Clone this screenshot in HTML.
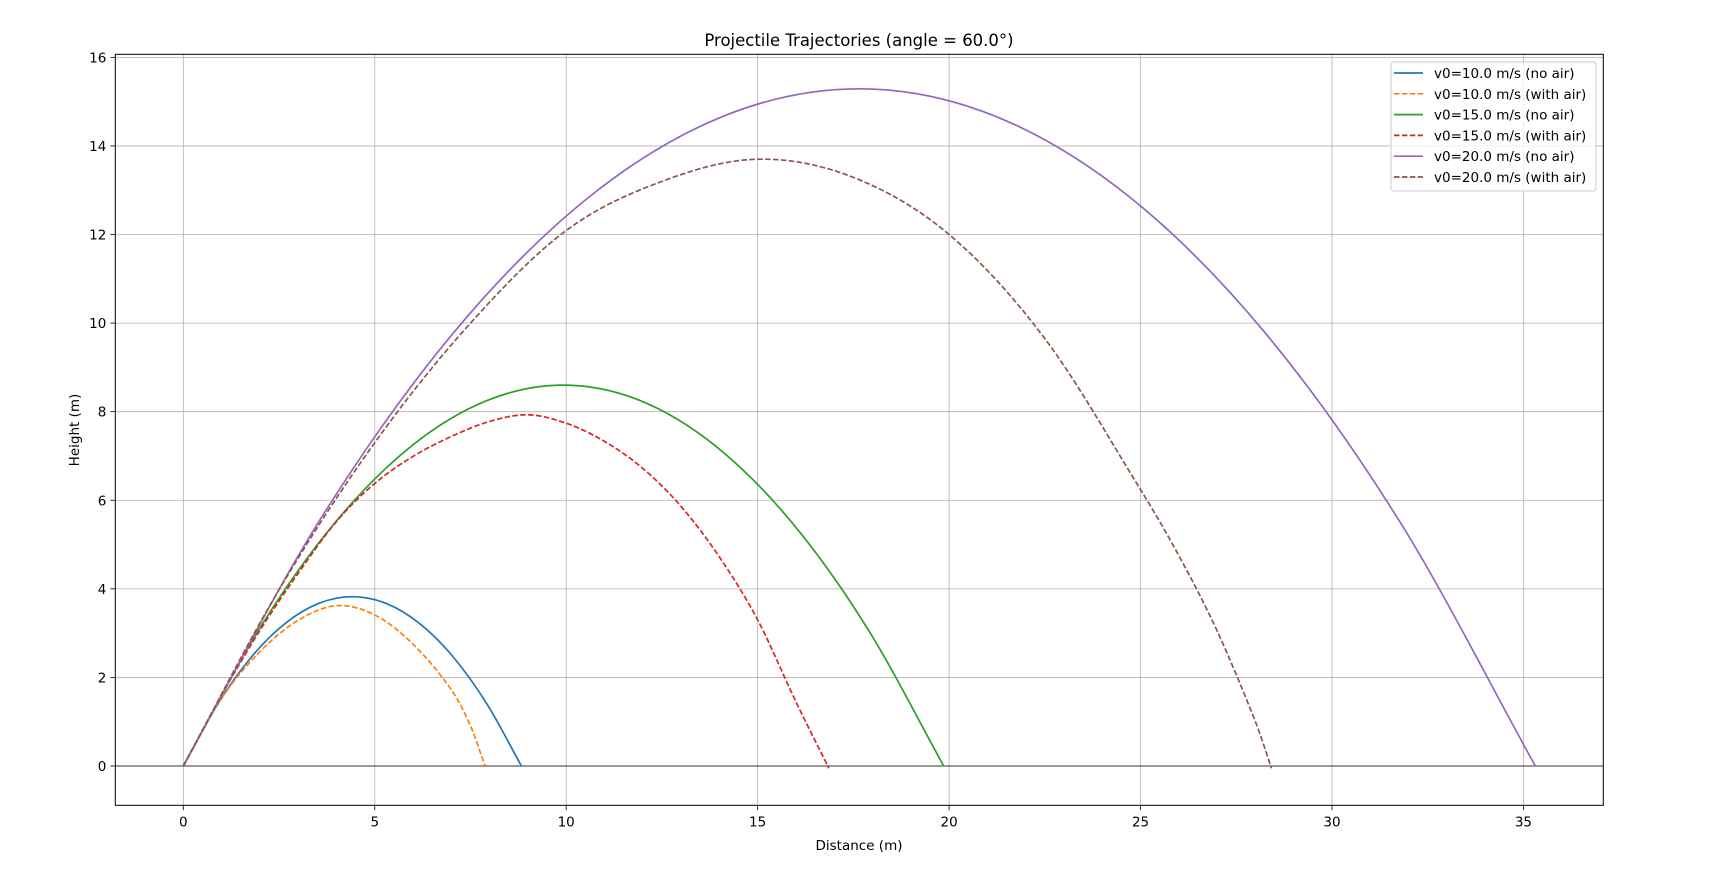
<!DOCTYPE html>
<html><head><meta charset="utf-8"><style>
body{margin:0;background:#fff;}
svg{display:block;font-family:"DejaVu Sans","Liberation Sans",sans-serif;}
</style></head><body>
<svg id="chart" width="1728" height="870" viewBox="0 0 1728 870">
<rect width="1728" height="870" fill="#fff"/>
<g id="grid"></g>
<g id="marks"></g>
<rect x="115.3" y="54.3" width="1488" height="751" fill="none" stroke="#000" stroke-width="1"/>
<g id="ticks"></g>
<text x="859" y="46" text-anchor="middle" font-size="16.5">Projectile Trajectories (angle = 60.0°)</text>
<text x="859" y="850" text-anchor="middle" font-size="13.5">Distance (m)</text>
<text x="79" y="430" text-anchor="middle" font-size="13.5" transform="rotate(-90 79 430)">Height (m)</text>
<g id="legend"></g>
</svg>
<script>
const xTicks=[0,5,10,15,20,25,30,35];
const yTicks=[0,2,4,6,8,10,12,14,16];
const seriesNames=["v0=10.0 m/s (no air)","v0=10.0 m/s (with air)","v0=15.0 m/s (no air)","v0=15.0 m/s (with air)","v0=20.0 m/s (no air)","v0=20.0 m/s (with air)"];
const v10NoAirX=[0,0.883,1.766,2.649,3.532,4.415,5.298,6.181,7.064,7.947,8.83];
const v10NoAirY=[0,1.376,2.447,3.211,3.670,3.823,3.670,3.211,2.447,1.376,0];
const v10AirX=[0,1,2,3,4,5,6,7,7.5,7.88];
const v10AirY=[0,1.53,2.58,3.29,3.62,3.41,2.75,1.72,0.91,0];
const v15NoAirX=[0,1.986,3.972,5.958,7.944,9.93,11.916,13.902,15.888,17.874,19.86];
const v15NoAirY=[0,3.096,5.504,7.224,8.256,8.60,8.256,7.224,5.504,3.096,0];
const v15AirX=[0,1,2,3,4,5,6,7,8,9,10,11,12,13,14,15,16,16.86];
const v15AirY=[0,1.6,3.06,4.35,5.52,6.38,6.99,7.44,7.78,7.93,7.74,7.33,6.72,5.86,4.72,3.3,1.45,-0.05];
const v20NoAirX=[0,3.531,7.062,10.593,14.124,17.655,21.186,24.717,28.248,31.779,35.31];
const v20NoAirY=[0,5.504,9.786,12.844,14.678,15.29,14.678,12.844,9.786,5.504,0];
const v20AirX=[0,2.5,5,7.5,10,12.5,15,17.5,20,22.5,25,26,27,28,28.42];
const v20AirY=[0,3.98,7.3,10.0,12.09,13.2,13.70,13.29,12.0,9.65,6.24,4.75,3.05,1.0,-0.05];
const seriesX=[v10NoAirX,v10AirX,v15NoAirX,v15AirX,v20NoAirX,v20AirX];
const seriesY=[v10NoAirY,v10AirY,v15NoAirY,v15AirY,v20NoAirY,v20AirY];
const colors=["#1f77b4","#ff7f0e","#2ca02c","#d62728","#9467bd","#8c564b"];
const dashed=[false,true,false,true,false,true];

const NS="http://www.w3.org/2000/svg";
const X0=183.3,XS=38.29,Y0=766,YS=44.29,L=115.3,R=1603.3,T=54.3,B=805.3;
function sx(v){return X0+XS*v;}
function sy(v){return Y0-YS*v;}
function mk(tag,attrs,parent){const e=document.createElementNS(NS,tag);for(const k in attrs)e.setAttribute(k,attrs[k]);parent.appendChild(e);return e;}
const grid=document.getElementById('grid'),ticks=document.getElementById('ticks'),marks=document.getElementById('marks'),legend=document.getElementById('legend');
xTicks.forEach(t=>{
 const g=mk('line',{x1:sx(t),x2:sx(t),y1:T,y2:B,stroke:'#b0b0b0','stroke-width':0.8},grid);
 
 
 const tk=mk('line',{x1:sx(t),x2:sx(t),y1:B,y2:B+4.9,stroke:'#000','stroke-width':0.8},ticks);
 
 
 const lb=mk('text',{x:sx(t),y:B+21,'text-anchor':'middle','font-size':13.5},ticks);
 lb.textContent=t;
 
 
});
yTicks.forEach(t=>{
 const g=mk('line',{x1:L,x2:R,y1:sy(t),y2:sy(t),stroke:'#b0b0b0','stroke-width':0.8},grid);
 
 
 const tk=mk('line',{x1:L-4.9,x2:L,y1:sy(t),y2:sy(t),stroke:'#000','stroke-width':0.8},ticks);
 
 
 const lb=mk('text',{x:L-9,y:sy(t)+5,'text-anchor':'end','font-size':13.5},ticks);
 lb.textContent=t;
 
 
});
const zl=mk('line',{x1:L,x2:R,y1:sy(0),y2:sy(0),stroke:'#333','stroke-width':1},grid);


function smooth(xs,ys){
 const p=xs.map((x,i)=>[sx(x),sy(ys[i])]);
 const n=p.length;
 const m=p.map((q,i)=>{
  const a=p[Math.max(0,i-1)],b=p[Math.min(n-1,i+1)];
  return (b[1]-a[1])/(b[0]-a[0]);
 });
 let d='M'+p[0][0]+','+p[0][1];
 for(let i=0;i<n-1;i++){
  const dx=(p[i+1][0]-p[i][0])/3;
  d+=' C'+(p[i][0]+dx)+','+(p[i][1]+m[i]*dx)+' '+(p[i+1][0]-dx)+','+(p[i+1][1]-m[i+1]*dx)+' '+p[i+1][0]+','+p[i+1][1];
 }
 return d;
}
seriesX.forEach((xs,i)=>{
 const a={d:smooth(xs,seriesY[i]),fill:'none',stroke:colors[i],'stroke-width':1.7};
 if(dashed[i])a['stroke-dasharray']='5.5,2.4';
 const p=mk('path',a,marks);
 
 
});
const lb=mk('rect',{x:1391,y:62,width:205,height:129,rx:3,fill:'#fff','fill-opacity':0.8,stroke:'#ccc','stroke-width':1},legend);


seriesNames.forEach((n,i)=>{
 const yy=73+i*20.8;
 const a={x1:1394,x2:1423,y1:yy,y2:yy,stroke:colors[i],'stroke-width':1.7};
 if(dashed[i])a['stroke-dasharray']='5.5,2.4';
 const l=mk('line',a,legend);
 
 
 const t=mk('text',{x:1434,y:yy+5,'font-size':13.5},legend);
 t.textContent=n;
 
 
});
</script>
</body></html>
